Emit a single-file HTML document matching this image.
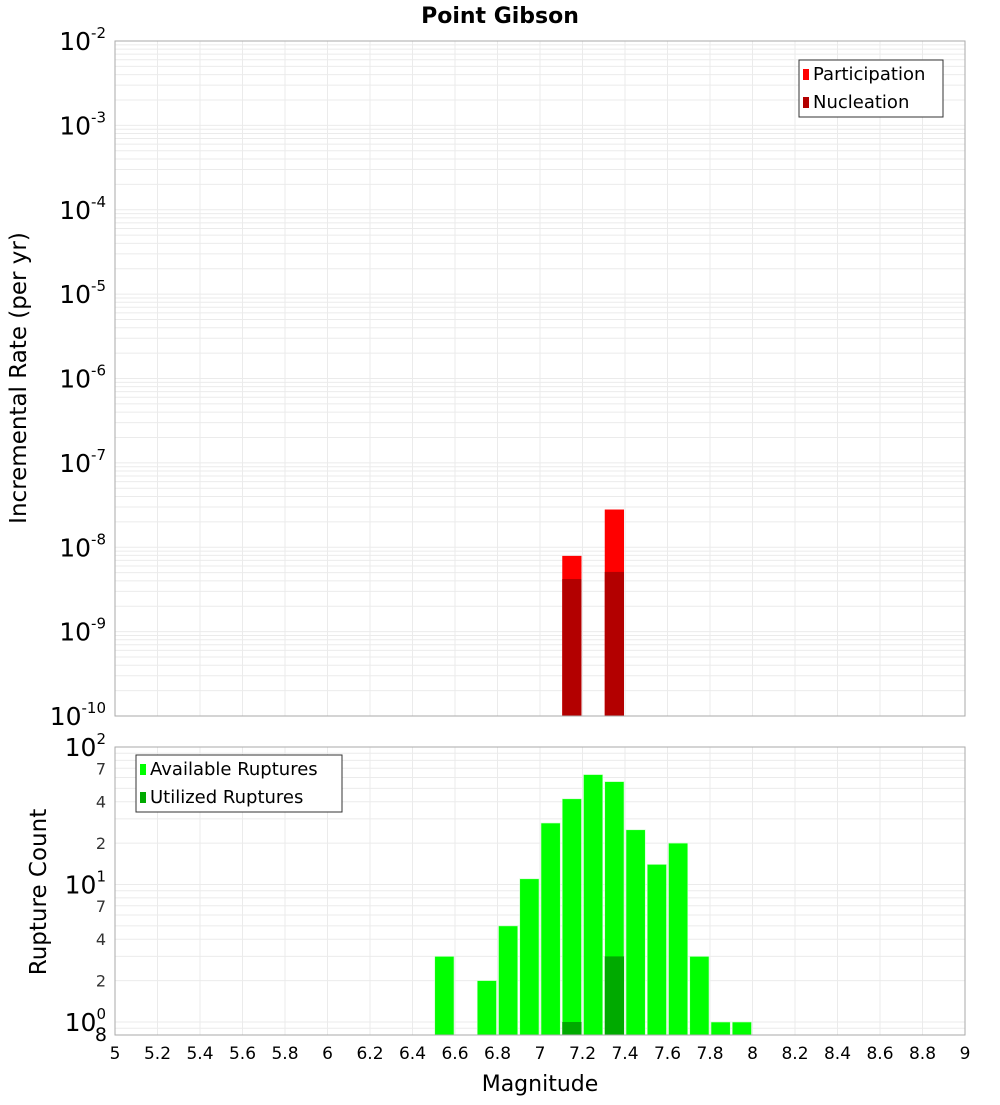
<!DOCTYPE html>
<html><head><meta charset="utf-8"><style>
body{margin:0;background:#fff;}
svg text{font-family:"DejaVu Sans","Liberation Sans",sans-serif;}
</style></head><body>
<svg id="chart" width="1000" height="1100" xmlns="http://www.w3.org/2000/svg">
<text x="500" y="23" text-anchor="middle" font-size="22" font-weight="bold">Point Gibson</text>
<g id="gtop"></g>
<g id="gbot"></g>
<text transform="translate(26,378) rotate(-90)" text-anchor="middle" font-size="23">Incremental Rate (per yr)</text>
<text transform="translate(46,892) rotate(-90)" text-anchor="middle" font-size="23">Rupture Count</text>
<text x="540" y="1091" text-anchor="middle" font-size="22">Magnitude</text>
</svg>
<script>
const rateMags=[7.15,7.35];
const participation=[7.9e-9,2.8e-8];
const nucleation=[4.2e-9,5.1e-9];
const countMags=[6.55,6.75,6.85,6.95,7.05,7.15,7.25,7.35,7.45,7.55,7.65,7.75,7.85,7.95];
const available=[3,2,5,11,28,42,63,56,25,14,20,3,1,1];
const utilMags=[7.15,7.35];
const utilized=[1,3];
const xTicks=[5,5.2,5.4,5.6,5.8,6,6.2,6.4,6.6,6.8,7,7.2,7.4,7.6,7.8,8,8.2,8.4,8.6,8.8,9];
const topDecades=[-2,-3,-4,-5,-6,-7,-8,-9,-10];
const botDecades=[2,1,0];
const botMinor=[7,4,2];

const NS="http://www.w3.org/2000/svg";
const X0=115,X1=965;
const xs=m=>X0+(m-5)/4*(X1-X0);
const T0=41,T1=716;
const ty=v=>T0+(-2-Math.log10(v))/8*(T1-T0);
const B0=747,B1=1035;
const by=v=>B0+(2-Math.log10(v))*137.5;
function el(p,tag,a){const e=document.createElementNS(NS,tag);for(const k in a)e.setAttribute(k,a[k]);p.appendChild(e);return e;}
const gTop=document.getElementById('gtop'),gBot=document.getElementById('gbot');

for(let d=-10;d<-2;d++)for(let k=1;k<10;k++){const y=ty(k*Math.pow(10,d));if(y<T0||y>T1)continue;
 const l=el(gTop,'line',{x1:X0,x2:X1,y1:y,y2:y,stroke:'#ebebeb','stroke-width':1});
 
 }
for(let d=-1;d<2;d++)for(let k=1;k<10;k++){const y=by(k*Math.pow(10,d));if(y<B0||y>B1)continue;
 const l=el(gBot,'line',{x1:X0,x2:X1,y1:y,y2:y,stroke:'#ebebeb','stroke-width':1});
 
 }
xTicks.forEach(t=>{const x=xs(t);
 const a=el(gTop,'line',{x1:x,x2:x,y1:T0,y2:T1,stroke:'#ebebeb'});
 
 
 const b=el(gBot,'line',{x1:x,x2:x,y1:B0,y2:B1,stroke:'#ebebeb'});
 
 
 const t2=el(gBot,'text',{x:x,y:1059,'text-anchor':'middle','font-size':17});
 t2.textContent=String(t);
 
 
});
const bw=(X1-X0)/40;
rateMags.forEach((m,i)=>{
 const r=el(gTop,'rect',{x:xs(m)-bw/2+1,width:bw-2,y:ty(participation[i]),height:T1-ty(participation[i]),fill:'#ff0000'});
 
 
 const n=el(gTop,'rect',{x:xs(m)-bw/2+1,width:bw-2,y:ty(nucleation[i]),height:T1-ty(nucleation[i]),fill:'#b30000'});
 
 
});
countMags.forEach((m,i)=>{
 const r=el(gBot,'rect',{x:xs(m)-bw/2+1,width:bw-2,y:by(available[i]),height:B1-by(available[i]),fill:'#00ff00',stroke:'#ccffcc','stroke-width':0.6});
 
 
});
utilMags.forEach((m,i)=>{
 const r=el(gBot,'rect',{x:xs(m)-bw/2+1,width:bw-2,y:by(utilized[i]),height:B1-by(utilized[i]),fill:'#00aa00'});
 
 
});
const f1=el(gTop,'rect',{x:X0,y:T0,width:X1-X0,height:T1-T0,fill:'none',stroke:'#aaa'});


const f2=el(gBot,'rect',{x:X0,y:B0,width:X1-X0,height:B1-B0,fill:'none',stroke:'#aaa'});


function powLabel(g,y,e,name){
 const t=el(g,'text',{x:106,y:y+9,'text-anchor':'end','font-size':25});
 
 
 t.textContent='10';
 const s=el(t,'tspan',{dy:-12,'font-size':15});s.textContent=String(e);
}
topDecades.forEach(d=>powLabel(gTop,ty(Math.pow(10,d)),d,'top-y-tick-label'));
botDecades.forEach(d=>powLabel(gBot,by(Math.pow(10,d)),d,'bottom-y-tick-label'));
[1,0].forEach(d=>botMinor.forEach(k=>{
 const t=el(gBot,'text',{x:106,y:by(k*Math.pow(10,d))+6,'text-anchor':'end','font-size':16,fill:'#333'});
 t.textContent=String(k);
 
 
}));
const e8=el(gBot,'text',{x:107,y:1041,'text-anchor':'end','font-size':19});
e8.textContent='8';


function legend(g,x,y,w,items,name){
 const lg=el(g,'g',{});
 
 
 el(lg,'rect',{x:x,y:y,width:w,height:57,fill:'#fff',stroke:'#333'});
 items.forEach((it,i)=>{
  el(lg,'rect',{x:x+4,y:y+9+i*28,width:6,height:11,fill:it[1]});
  const t=el(lg,'text',{x:x+14,y:y+20+i*28,'font-size':18});t.textContent=it[0];
 });
}
legend(gTop,799,60,144,[['Participation','#ff0000'],['Nucleation','#b30000']],'top-legend');
legend(gBot,136,755,206,[['Available Ruptures','#00ff00'],['Utilized Ruptures','#00aa00']],'bottom-legend');
</script>
</body></html>
